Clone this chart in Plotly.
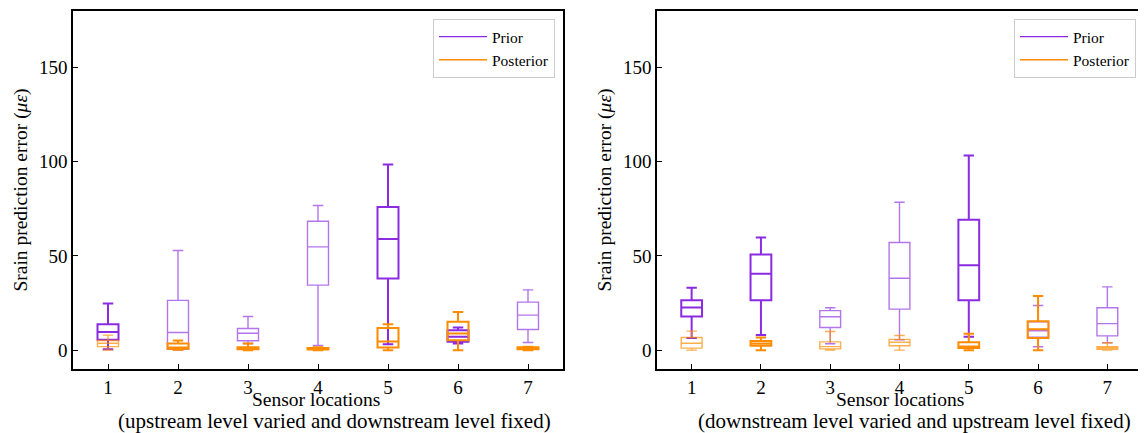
import plotly.graph_objects as go

sensors = [1, 2, 3, 4, 5, 6, 7]

# Left panel: upstream level varied, downstream fixed
L_prior_low = [0.5, 0.0, 3.5, 2.5, 3.2, 3.5, 4.1]
L_prior_q1 = [5.5, 0.5, 5.0, 34.5, 38.0, 4.4, 11.0]
L_prior_med = [9.7, 9.4, 9.0, 54.8, 59.0, 7.1, 18.6]
L_prior_q3 = [13.8, 26.4, 11.5, 68.4, 76.0, 10.6, 25.5]
L_prior_high = [24.8, 52.9, 17.9, 76.8, 98.5, 12.0, 32.0]

L_post_low = [0.0, 0.2, 0.0, 0.0, 0.0, 0.0, 0.0]
L_post_q1 = [1.9, 0.7, 0.5, 0.4, 1.4, 5.3, 0.5]
L_post_med = [3.7, 1.4, 1.0, 0.7, 4.6, 8.9, 1.0]
L_post_q3 = [5.1, 3.5, 1.6, 1.2, 11.7, 15.1, 1.6]
L_post_high = [8.0, 5.1, 3.5, 1.6, 13.8, 20.2, 1.8]

# Right panel: downstream level varied, upstream fixed
R_prior_low = [6.4, 8.1, 3.4, 5.5, 7.1, 1.8, 3.9]
R_prior_q1 = [17.9, 26.5, 12.0, 21.8, 26.5, 6.9, 7.6]
R_prior_med = [22.6, 40.5, 17.7, 38.2, 45.1, 10.3, 14.1]
R_prior_q3 = [26.5, 50.8, 21.0, 57.1, 69.2, 15.0, 22.5]
R_prior_high = [33.1, 59.8, 22.5, 78.5, 103.3, 23.7, 33.6]

R_post_low = [0.0, 0.0, 0.0, 0.0, 0.0, 0.0, 0.0]
R_post_q1 = [1.1, 2.3, 0.7, 2.3, 1.1, 6.4, 0.5]
R_post_med = [3.7, 3.5, 1.9, 4.2, 1.9, 11.1, 1.2]
R_post_q3 = [6.7, 4.8, 4.4, 5.7, 4.2, 15.4, 1.9]
R_post_high = [10.1, 6.7, 9.9, 7.8, 8.7, 28.8, 3.9]

y_ticks = [0, 50, 100, 150]
x_title_main = "Sensor locations"
x_sub_left = "(upstream level varied and downstream level fixed)"
x_sub_right = "(downstream level varied and upstream level fixed)"
y_title = "Srain prediction error (<i>με</i>)"

# styles (emphasis per box: True = bold line)
L_prior_bold = [True, False, False, False, True, True, False]
L_post_bold = [False, True, True, True, True, True, True]
R_prior_bold = [True, True, False, False, True, False, False]
R_post_bold = [False, True, False, False, True, True, False]

PURPLE = "#8A2BE2"
PURPLE_L = "rgba(138,43,226,0.65)"
ORANGE = "#FF8C00"
ORANGE_L = "rgba(255,140,0,0.7)"
FONT = "Liberation Serif"

# page has an 8px body margin; figure is sized/placed to compensate
W, H, OFF = 1138, 425, 8


def px_x(p):
    return (p - OFF) / W


def px_y(p):
    return 1 - (p - OFF) / H


fig = go.Figure()


def add_boxes(xa, ya, low, q1, med, q3, high, bold, c_bold, c_light):
    for i, s in enumerate(sensors):
        fig.add_trace(go.Box(
            x=[s], lowerfence=[low[i]], q1=[q1[i]], median=[med[i]],
            q3=[q3[i]], upperfence=[high[i]],
            width=0.3, whiskerwidth=0.5, boxpoints=False,
            fillcolor="rgba(0,0,0,0)",
            line=dict(color=c_bold if bold[i] else c_light,
                      width=2 if bold[i] else 1.4),
            showlegend=False, hoverinfo="skip",
            xaxis=xa, yaxis=ya))


add_boxes("x", "y", L_prior_low, L_prior_q1, L_prior_med, L_prior_q3, L_prior_high,
          L_prior_bold, PURPLE, PURPLE_L)
add_boxes("x", "y", L_post_low, L_post_q1, L_post_med, L_post_q3, L_post_high,
          L_post_bold, ORANGE, ORANGE_L)
add_boxes("x2", "y2", R_prior_low, R_prior_q1, R_prior_med, R_prior_q3, R_prior_high,
          R_prior_bold, PURPLE, PURPLE_L)
add_boxes("x2", "y2", R_post_low, R_post_q1, R_post_med, R_post_q3, R_post_high,
          R_post_bold, ORANGE, ORANGE_L)

# legend proxies
for xa, ya, lg in [("x", "y", "legend"), ("x2", "y2", "legend2")]:
    fig.add_trace(go.Scatter(x=[None], y=[None], mode="lines", name="Prior",
                             line=dict(color=PURPLE, width=1.3),
                             xaxis=xa, yaxis=ya, legend=lg))
    fig.add_trace(go.Scatter(x=[None], y=[None], mode="lines", name="Posterior",
                             line=dict(color=ORANGE, width=1.3),
                             xaxis=xa, yaxis=ya, legend=lg))

TF = dict(family=FONT, size=19, color="black")
TT = dict(family=FONT, size=19.5, color="black")
TS = dict(family=FONT, size=21, color="black")
ydom = [px_y(369), px_y(11)]
common_x = dict(range=[0.5, 7.5], tickvals=sensors, ticks="inside", ticklen=5,
                tickcolor="black", showline=True, linecolor="black", linewidth=1.5,
                mirror=True, showgrid=False, zeroline=False,
                tickfont=TF, automargin=False)
common_y = dict(range=[-10, 180], tickvals=y_ticks, ticks="inside", ticklen=5,
                tickcolor="black", showline=True, linecolor="black", linewidth=1.5,
                mirror=True, showgrid=False, zeroline=False,
                tickfont=TF, domain=ydom, automargin=False)

legend_common = dict(bgcolor="white", bordercolor="#cccccc", borderwidth=1,
                     font=dict(family=FONT, size=15.5, color="black"),
                     xanchor="right", yanchor="top", itemwidth=48,
                     tracegroupgap=0)

annotations = []
for cx_main, cx_sub, sub in [(316, 334, x_sub_left), (900, 914, x_sub_right)]:
    annotations.append(dict(text=x_title_main, xref="paper", yref="paper",
                            x=px_x(cx_main), y=px_y(399), xanchor="center",
                            yanchor="middle", showarrow=False, font=TT))
    annotations.append(dict(text=sub, xref="paper", yref="paper",
                            x=px_x(cx_sub), y=px_y(421), xanchor="center",
                            yanchor="middle", showarrow=False, font=TS))

fig.update_layout(
    width=W, height=H,
    margin=dict(l=0, r=0, t=0, b=0),
    paper_bgcolor="white", plot_bgcolor="white",
    font=dict(family=FONT),
    boxmode="overlay",
    xaxis=dict(common_x, domain=[px_x(73), px_x(563)]),
    yaxis=dict(common_y, anchor="x",
               title=dict(text=y_title, standoff=6, font=TT)),
    xaxis2=dict(common_x, domain=[px_x(657), px_x(1142)], anchor="y2"),
    yaxis2=dict(common_y, anchor="x2",
                title=dict(text=y_title, standoff=6, font=TT)),
    legend=dict(legend_common, x=px_x(555), y=px_y(19)),
    legend2=dict(legend_common, x=px_x(1136), y=px_y(19)),
    annotations=annotations,
)

fig.write_html("out.html")
